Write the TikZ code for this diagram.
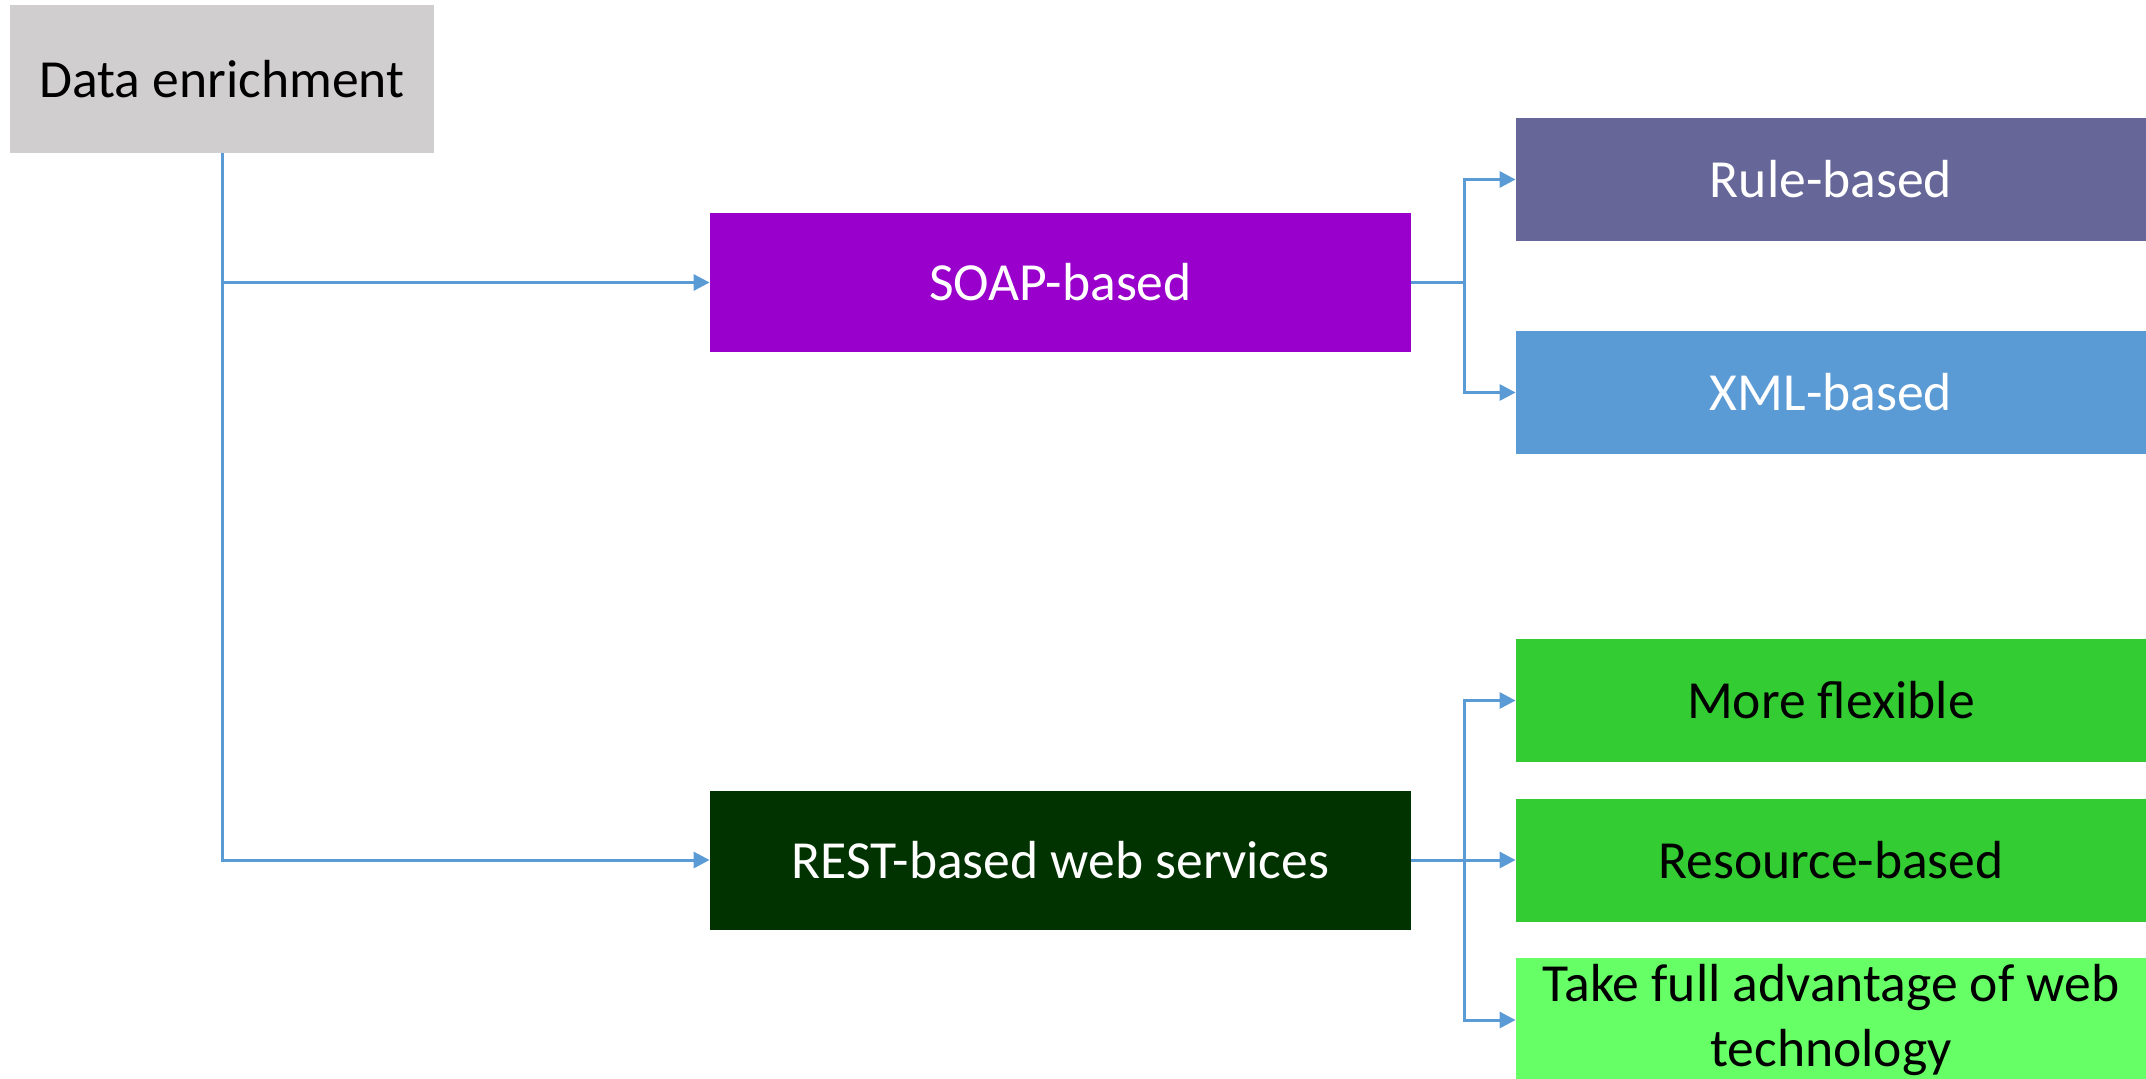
\documentclass[tikz,border=0pt]{standalone}
\usepackage{fontspec}
\setmainfont{Carlito}
\usetikzlibrary{arrows.meta}
\definecolor{boxgray}{HTML}{D0CECE}
\definecolor{soapc}{HTML}{9900CC}
\definecolor{restc}{HTML}{003300}
\definecolor{rulec}{HTML}{666699}
\definecolor{xmlc}{HTML}{5B9BD5}
\definecolor{greenc}{HTML}{33CC33}
\definecolor{lightg}{HTML}{66FF66}
\definecolor{linec}{HTML}{5B9BD5}
\tikzset{
  box/.style={rectangle, inner sep=0pt, align=center,
    font=\fontsize{26.8pt}{32.5pt}\selectfont},
  rootbox/.style={box, fill=boxgray, text=black, minimum width=212pt, minimum height=74pt},
  midbox/.style={box, minimum width=350.5pt, minimum height=69.5pt, text=white},
  leafbox/.style={box, minimum width=315pt, minimum height=61.5pt},
  conn/.style={draw=linec, line width=1.5pt, -{Triangle[length=8pt,width=8pt]}},
  plain/.style={draw=linec, line width=1.5pt}
}
\begin{document}
\begin{tikzpicture}[x=0.5pt, y=-0.5pt]
  \useasboundingbox (0,0) rectangle (2146,1078);
  \clip (0,0) rectangle (2146,1078);
  \fill[white] (0,0) rectangle (2146,1078);

  % root
  \node[rootbox] (de) at (222,79) {Data enrichment};

  % second level
  \node[midbox, fill=soapc] (soap) at (1060.5,282.5) {SOAP-based};
  \node[midbox, fill=restc] (rest) at (1060.5,860) {REST-based web services};

  % leaves
  \node[leafbox, fill=rulec, text=white] (rule) at (1831,179.5) {Rule-based};
  \node[leafbox, fill=xmlc, text=white] (xml) at (1831,392.5) {XML-based};
  \node[leafbox, fill=greenc, text=black] (more) at (1831,700.5) {More flexible};
  \node[leafbox, fill=greenc, text=black] (res) at (1831,860) {Resource-based};
  \node[leafbox, fill=lightg, text=black, minimum height=62pt]
    (take) at (1831,1020) {Take full advantage of web\\technology};

  % connectors from the root
  \draw[conn] (de.south) |- (soap.west);
  \draw[conn] (de.south) |- (rest.west);

  % SOAP branch
  \coordinate (sj) at ([xshift=26.5pt]soap.east);
  \draw[plain] (soap.east) -- (sj);
  \draw[conn] (sj) |- (rule.west);
  \draw[conn] (sj) |- (xml.west);

  % REST branch
  \coordinate (rj) at ([xshift=26.5pt]rest.east);
  \draw[conn] (rest.east) -- (res.west);
  \draw[conn] (rj) |- (more.west);
  \draw[conn] (rj) |- (take.west);
\end{tikzpicture}
\end{document}
